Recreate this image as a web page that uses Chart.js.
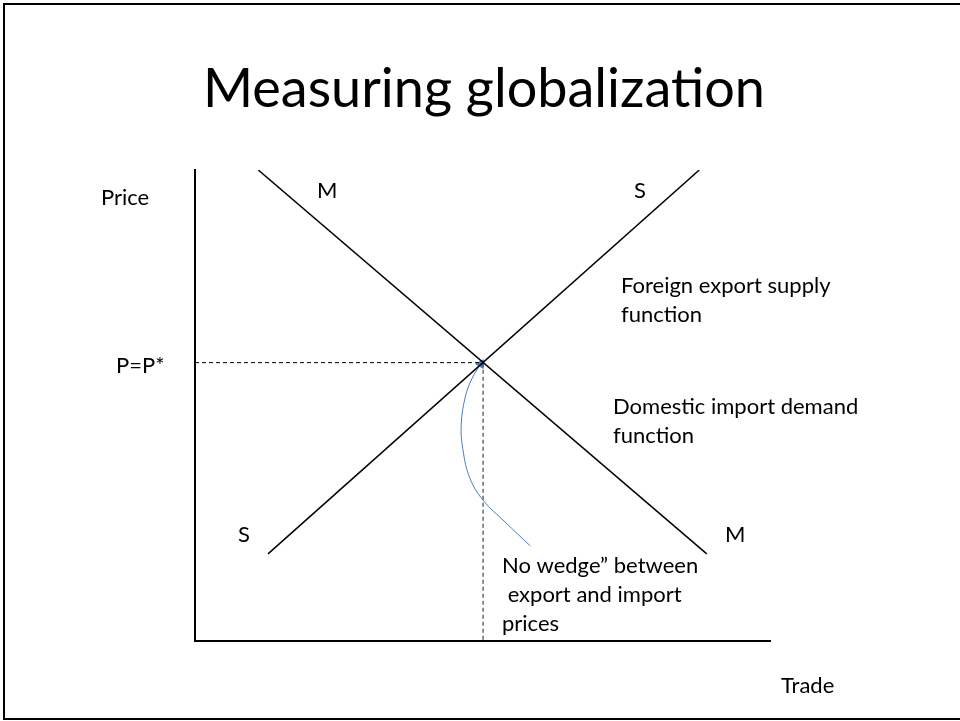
<!DOCTYPE html>
<html><head><meta charset="utf-8">
<script src="https://cdn.jsdelivr.net/npm/chart.js@4.4.1/dist/chart.umd.min.js"></script>
<style>
html,body{margin:0;padding:0;background:#fff;}
#wrap{position:relative;width:960px;height:721px;overflow:hidden;background:#fff;}
#frame{position:absolute;left:3px;top:3px;width:990px;height:717px;border:2px solid #000;border-right:none;box-sizing:border-box;pointer-events:none;}
canvas{position:absolute;left:0;top:0;}
</style></head>
<body><div id="wrap"><canvas id="c" width="960" height="721"></canvas><div id="frame"></div></div>
<script>
// ---- data (axis units: Trade 0..100, Price 0..100) ----
const importDemandM = [{x: 11.0, y: 100}, {x: 89.0, y: 18.5}];
const exportSupplyS = [{x: 12.7, y: 18.5}, {x: 87.7, y: 100}];
const equilibriumTrade = 50.1;
const equilibriumPrice = 59.1;
const priceGuide = [{x: 0, y: equilibriumPrice}, {x: equilibriumTrade, y: equilibriumPrice}];
const tradeGuide = [{x: equilibriumTrade, y: equilibriumPrice}, {x: equilibriumTrade, y: 0}];
const arrowCurve = [
  {x: 58.3, y: 20.2}, {x: 53.9, y: 25.3}, {x: 50.1, y: 29.9}, {x: 47.8, y: 34.6},
  {x: 46.6, y: 40.6}, {x: 46.3, y: 45.9}, {x: 47.0, y: 51.8}, {x: 48.2, y: 55.8}, {x: 49.7, y: 58.8}
];
const titleText = 'Measuring globalization';
const labelTexts = ['Price', 'P=P*', 'M', 'S', 'Foreign export supply', 'function',
  'Domestic import demand', 'function', 'S', 'M', 'No wedge\u201d between', ' export and import', 'prices', 'Trade'];

// ---- layout (pixel anchors for text: left, baseline) ----
const labelPos = [[101,205],[116,373],[317,198],[634,198],[621,293],[621,322],
  [613,414],[613,443],[238,542],[725,542],[502,573],[502,602],[502,631],[781,693]];
const FONT = 'Lato, "Open Sans", sans-serif';

const textPlugin = {
  id: 'slideText',
  afterDraw(chart) {
    const ctx = chart.ctx;
    ctx.save();
    ctx.fillStyle = '#000';
    ctx.textBaseline = 'alphabetic';
    ctx.font = '54px ' + FONT;
    ctx.textAlign = 'center';
    ctx.fillText(titleText, 484, 107);
    ctx.textAlign = 'left';
    ctx.font = '22px ' + FONT;
    labelTexts.forEach((t, i) => ctx.fillText(t, labelPos[i][0], labelPos[i][1]));
    ctx.restore();
  }
};

const n = arrowCurve.length;
new Chart(document.getElementById('c'), {
  type: 'scatter',
  data: {
    datasets: [
      {data: importDemandM, showLine: true, borderColor: '#000', borderWidth: 1.5, pointRadius: 0},
      {data: exportSupplyS, showLine: true, borderColor: '#000', borderWidth: 1.5, pointRadius: 0},
      {data: priceGuide, showLine: true, borderColor: '#000', borderWidth: 1, borderDash: [4, 3], pointRadius: 0},
      {data: tradeGuide, showLine: true, borderColor: '#444', borderWidth: 1.2, borderDash: [4, 3], pointRadius: 0},
      {data: arrowCurve, showLine: true, borderColor: '#4a7ebb', borderWidth: 1, tension: 0.4,
       pointStyle: 'triangle',
       pointRadius: c => c.dataIndex === n - 1 ? 5 : 0,
       pointHoverRadius: c => c.dataIndex === n - 1 ? 5 : 0,
       pointRotation: 31, pointBackgroundColor: '#4a7ebb', pointBorderColor: '#4a7ebb', pointBorderWidth: 1}
    ]
  },
  options: {
    responsive: false, animation: false,
    layout: {padding: {left: 195, top: 170, right: 190, bottom: 80}},
    plugins: {legend: {display: false}, tooltip: {enabled: false}, title: {display: false}},
    scales: {
      x: {type: 'linear', min: 0, max: 100, grid: {display: false, drawTicks: false},
          ticks: {display: false}, border: {display: true, color: '#000', width: 2}},
      y: {type: 'linear', min: 0, max: 100, grid: {display: false, drawTicks: false},
          ticks: {display: false}, border: {display: true, color: '#000', width: 2}}
    }
  },
  plugins: [textPlugin]
});
</script>
</body></html>
